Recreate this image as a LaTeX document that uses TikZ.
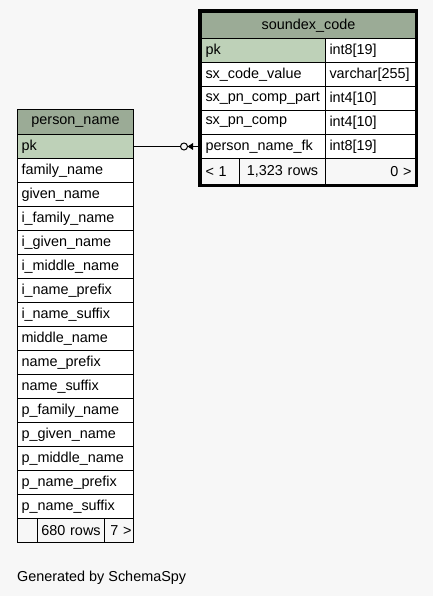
\documentclass[tikz,border=0pt]{standalone}
\usepackage{fontspec}
\setmainfont{Liberation Sans}
\definecolor{backgrey}{HTML}{F7F7F7}
\definecolor{headgreen}{HTML}{9BAB96}
\definecolor{keygreen}{HTML}{BED1B8}
\tikzset{
  colcell/.style={draw, line width=1pt, fill=white, anchor=north west,
    inner xsep=4pt, inner ysep=0pt, minimum height=24pt,
    text width=#1, align=left, font=\fontsize{14.4}{16}\selectfont},
  headcell/.style={colcell=#1, fill=headgreen, minimum height=25pt, align=center},
  keycell/.style={colcell=#1, fill=keygreen},
  footcell/.style={colcell=#1, fill=backgrey, inner xsep=2pt},
}
\begin{document}
\begin{tikzpicture}[x=1pt, y=-1pt]
                \useasboundingbox[fill=backgrey] (0,0) rectangle (433,596);
                % person_name table
                \node[headcell=108pt] (pn-head) at (17,109) {person\_name};
                \node[keycell=108pt] (pn-pk) at (17,134) {pk};
                \node[colcell=108pt] (pn-family) at (17,158) {family\_name};
                \node[colcell=108pt] (pn-given) at (17,182) {given\_name};
                \node[colcell=108pt] (pn-ifamily) at (17,206) {i\_family\_name};
                \node[colcell=108pt] (pn-igiven) at (17,230) {i\_given\_name};
                \node[colcell=108pt] (pn-imiddle) at (17,254) {i\_middle\_name};
                \node[colcell=108pt] (pn-iprefix) at (17,278) {i\_name\_prefix};
                \node[colcell=108pt] (pn-isuffix) at (17,302) {i\_name\_suffix};
                \node[colcell=108pt] (pn-middle) at (17,326) {middle\_name};
                \node[colcell=108pt] (pn-prefix) at (17,350) {name\_prefix};
                \node[colcell=108pt] (pn-suffix) at (17,374) {name\_suffix};
                \node[colcell=108pt] (pn-pfamily) at (17,398) {p\_family\_name};
                \node[colcell=108pt] (pn-pgiven) at (17,422) {p\_given\_name};
                \node[colcell=108pt] (pn-pmiddle) at (17,446) {p\_middle\_name};
                \node[colcell=108pt] (pn-pprefix) at (17,470) {p\_name\_prefix};
                \node[colcell=108pt] (pn-psuffix) at (17,494) {p\_name\_suffix};
                \node[footcell=16pt] (pn-parents) at (17,518) {};
                \node[footcell=63pt, align=center] (pn-rows) at (37,518) {680~rows};
                \node[footcell=25pt, align=right] (pn-children) at (104,518) {7~>};
                % soundex_code table
                \node[headcell=206pt, minimum height=26pt] (sx-head) at (201,12) {soundex\_code};
                \node[keycell=116pt] (sx-pk) at (201,38) {pk};
                \node[keycell=82pt, fill=white] (sx-pk-type) at (325,38) {int8[19]};
                \node[colcell=116pt] (sx-value) at (201,62) {sx\_code\_value};
                \node[colcell=82pt] (sx-value-type) at (325,62) {varchar[255]};
                \node[colcell=116pt] (sx-part) at (201,86) {sx\_pn\_comp\_part};
                \node[colcell=82pt] (sx-part-type) at (325,86) {int4[10]};
                \node[colcell=116pt] (sx-comp) at (201,110) {sx\_pn\_comp};
                \node[colcell=82pt] (sx-comp-type) at (325,110) {int4[10]};
                \node[colcell=116pt] (sx-fk) at (201,134) {person\_name\_fk};
                \node[colcell=82pt] (sx-fk-type) at (325,134) {int8[19]};
                \node[footcell=34pt, minimum height=26pt, inner xsep=4pt, text width=30pt] (sx-parents) at (201,158) {<~1};
                \node[footcell=82pt, minimum height=26pt, align=center] (sx-rows) at (239,158) {1,323~rows};
                \node[footcell=86pt, minimum height=26pt, align=right, inner xsep=4pt, text width=82pt] (sx-children) at (325,158) {0~>};
                \draw[line width=3pt] (199.5,10.5) rectangle (416.5,185.5);
                % relationship
                \draw[line width=1pt] (pn-pk.east) -- (sx-fk.west);
                \draw[line width=1pt, fill=backgrey] ([xshift=-17pt]sx-fk.west) circle (3.5);
                \fill[black] ([xshift=-13.5pt]sx-fk.west) -- ([xshift=-8pt, yshift=3.5pt]sx-fk.west) -- ([xshift=-8pt, yshift=-3.5pt]sx-fk.west) -- cycle;
                % footer
                \node[anchor=base west, inner sep=0pt, font=\fontsize{14.4}{16}\selectfont] (credit) at (17,581) {Generated by SchemaSpy};
\end{tikzpicture}
\end{document}
